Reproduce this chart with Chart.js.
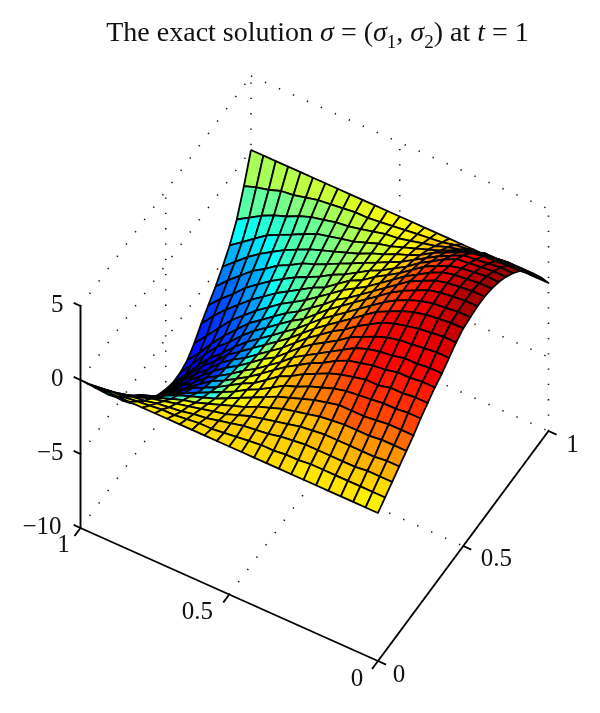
<!DOCTYPE html>
<html>
<head>
<meta charset="utf-8">
<title>The exact solution</title>
<script src="https://cdn.jsdelivr.net/npm/chart.js@4"></script>
<style>
body { margin: 0; background: #fff; }
#wrap { position: relative; width: 600px; height: 713px; }
#title { position: absolute; left: 0; top: 16px; width: 600px; padding-left: 35px; box-sizing: border-box; text-align: center;
  font: 28px "Liberation Serif", serif; color: #111; white-space: nowrap; }
#title sub { font-size: 19px; line-height: 0; }
</style>
</head>
<body>
<div id="wrap">
<div id="title">The exact solution <i>σ</i> = (<i>σ</i><sub>1</sub>, <i>σ</i><sub>2</sub>) at <i>t</i> = 1</div>
<canvas id="surfaceChart" width="600" height="713"></canvas>
</div>
<script>
const zTicks = [5, 0, -5, -10];
const zLabels = ['5', '0', '−5', '−10'];
const xTicks = [1, 0.5, 0];
const xLabels = ['1', '0.5', '0'];
const yTicks = [0, 0.5, 1];
const yLabels = ['0', '0.5', '1'];

// height of the surface, row 0 is the back edge, column 0 the left edge
const surfaceZ = [
  [0,0,0,0,0,0,0,0,0,0,0,0,0,0,0,0,0,0,0,0,0,0,0,0,0],
  [-1.8,-1.5,-1.3,-1,-.9,-.7,-.5,-.4,-.3,-.2,-.2,-.1,0,.1,.2,.3,.4,.6,.7,.8,.9,1,1,1,1],
  [-3.4,-2.9,-2.4,-2,-1.7,-1.3,-1,-.8,-.6,-.5,-.3,-.1,.1,.2,.4,.6,.8,1.1,1.3,1.5,1.8,1.8,1.9,1.9,1.9],
  [-4.5,-3.9,-3.3,-2.7,-2.3,-1.9,-1.5,-1.1,-.9,-.7,-.5,-.2,.1,.3,.6,.9,1.2,1.5,1.9,2.2,2.5,2.6,2.6,2.7,2.7],
  [-5.3,-4.6,-3.9,-3.3,-2.8,-2.3,-1.9,-1.5,-1.2,-.9,-.6,-.3,.1,.4,.8,1.1,1.5,2,2.4,2.8,3.1,3.3,3.3,3.4,3.4],
  [-6,-5.2,-4.5,-3.8,-3.3,-2.7,-2.3,-1.8,-1.5,-1.1,-.7,-.3,.1,.5,.9,1.3,1.8,2.3,2.8,3.2,3.6,3.7,3.8,3.9,3.9],
  [-6.6,-5.8,-5.1,-4.3,-3.7,-3.1,-2.6,-2.1,-1.7,-1.3,-.8,-.4,.1,.6,1,1.5,2,2.6,3.1,3.6,4,4.1,4.2,4.3,4.3],
  [-7.2,-6.3,-5.5,-4.8,-4.1,-3.5,-2.9,-2.4,-1.9,-1.4,-1,-.4,.2,.6,1.2,1.7,2.2,2.8,3.4,3.8,4.2,4.4,4.5,4.6,4.6],
  [-7.9,-7,-6.1,-5.2,-4.5,-3.8,-3.2,-2.6,-2.1,-1.6,-1,-.4,.2,.7,1.2,1.8,2.4,3,3.5,4,4.4,4.6,4.7,4.8,4.8],
  [-8.4,-7.5,-6.5,-5.6,-4.8,-4,-3.4,-2.8,-2.2,-1.7,-1.1,-.5,.2,.7,1.3,1.9,2.5,3.1,3.7,4.1,4.5,4.7,4.8,4.9,4.9],
  [-8.6,-7.6,-6.6,-5.7,-5,-4.2,-3.5,-2.9,-2.3,-1.7,-1.2,-.5,.2,.8,1.4,2,2.6,3.2,3.7,4.1,4.5,4.7,4.8,4.9,4.9],
  [-8.6,-7.7,-6.7,-5.8,-5.1,-4.3,-3.6,-3,-2.4,-1.8,-1.2,-.5,.2,.8,1.4,2,2.6,3.2,3.7,4.1,4.4,4.6,4.7,4.8,4.8],
  [-8.4,-7.5,-6.6,-5.7,-5,-4.2,-3.6,-3,-2.4,-1.8,-1.2,-.5,.2,.8,1.4,2,2.6,3.2,3.6,4,4.3,4.5,4.6,4.7,4.7],
  [-8.1,-7.3,-6.4,-5.6,-4.9,-4.1,-3.5,-3,-2.4,-1.8,-1.2,-.5,.2,.8,1.4,1.9,2.5,3,3.5,3.8,4,4.2,4.3,4.4,4.4],
  [-7.8,-7,-6.2,-5.4,-4.7,-4,-3.4,-2.9,-2.3,-1.7,-1.2,-.5,.2,.8,1.3,1.8,2.4,2.8,3.2,3.5,3.7,3.8,3.9,4,4],
  [-7.3,-6.6,-5.8,-5.1,-4.5,-3.8,-3.3,-2.8,-2.2,-1.7,-1.1,-.5,.2,.7,1.2,1.7,2.2,2.7,3,3.2,3.3,3.5,3.5,3.6,3.6],
  [-6.8,-6.1,-5.4,-4.8,-4.2,-3.6,-3,-2.6,-2.1,-1.6,-1,-.4,.2,.7,1.2,1.6,2.1,2.5,2.7,2.9,3,3.2,3.2,3.3,3.3],
  [-6.1,-5.5,-4.9,-4.3,-3.8,-3.2,-2.8,-2.4,-1.9,-1.4,-1,-.4,.2,.6,1.1,1.5,1.9,2.2,2.4,2.6,2.6,2.8,2.8,2.9,2.9],
  [-5.3,-4.8,-4.3,-3.8,-3.3,-2.9,-2.5,-2.1,-1.7,-1.3,-.8,-.4,.1,.6,.9,1.3,1.6,1.9,2.1,2.2,2.3,2.4,2.4,2.5,2.5],
  [-4.4,-4,-3.5,-3.2,-2.8,-2.4,-2.1,-1.8,-1.5,-1.1,-.7,-.3,.1,.5,.8,1.1,1.4,1.6,1.8,1.8,1.8,1.9,2,2,2],
  [-3.6,-3.3,-2.9,-2.6,-2.3,-2,-1.7,-1.5,-1.2,-.9,-.6,-.3,.1,.4,.7,.9,1.1,1.3,1.4,1.5,1.5,1.5,1.6,1.6,1.6],
  [-2.7,-2.4,-2.2,-2,-1.7,-1.5,-1.3,-1.1,-.9,-.7,-.5,-.2,.1,.3,.5,.7,.9,1,1.1,1.1,1.1,1.1,1.1,1.2,1.2],
  [-1.8,-1.6,-1.5,-1.3,-1.2,-1,-.9,-.8,-.6,-.5,-.3,-.1,.1,.2,.3,.5,.6,.7,.7,.7,.7,.7,.8,.8,.8],
  [-.9,-.8,-.7,-.7,-.6,-.5,-.4,-.4,-.3,-.2,-.2,-.1,0,.1,.2,.2,.3,.3,.4,.4,.4,.4,.4,.4,.4],
  [0,0,0,0,0,0,0,0,0,0,0,0,0,0,0,0,0,0,0,0,0,0,0,0,0]
];

// colour value of each cell, 0 to 1 on the jet map
const cellColor = [
  [.54,.54,.55,.55,.56,.57,.57,.58,.59,.60,.61,.62,.62,.63,.64,.65,.67,.69,.71,.74,.78,.83,.87,.93],
  [.46,.47,.48,.49,.50,.51,.52,.54,.55,.57,.58,.60,.62,.63,.65,.68,.71,.75,.79,.83,.87,.90,.93,.96],
  [.38,.39,.41,.42,.44,.46,.48,.50,.52,.54,.56,.58,.60,.62,.64,.67,.71,.75,.79,.84,.88,.92,.95,.97],
  [.30,.32,.35,.38,.42,.45,.47,.48,.50,.52,.54,.56,.58,.61,.64,.67,.71,.75,.80,.84,.89,.92,.95,.97],
  [.25,.27,.30,.33,.38,.43,.45,.47,.49,.51,.53,.56,.58,.61,.64,.67,.71,.75,.80,.85,.89,.93,.95,.97],
  [.21,.23,.26,.29,.34,.41,.44,.47,.49,.51,.53,.55,.58,.61,.64,.68,.72,.76,.80,.85,.89,.93,.95,.97],
  [.18,.20,.23,.27,.31,.38,.42,.45,.48,.50,.53,.56,.59,.62,.65,.69,.73,.77,.81,.85,.89,.93,.95,.97],
  [.16,.18,.20,.24,.28,.34,.39,.43,.47,.50,.54,.58,.61,.64,.67,.71,.75,.79,.83,.86,.90,.93,.95,.97],
  [.14,.16,.18,.21,.25,.30,.36,.42,.47,.51,.55,.59,.62,.65,.68,.72,.76,.80,.83,.87,.90,.93,.95,.96],
  [.12,.14,.16,.18,.21,.25,.30,.36,.44,.51,.56,.60,.63,.66,.69,.73,.77,.80,.84,.87,.90,.92,.95,.96],
  [.11,.12,.14,.15,.18,.22,.28,.35,.44,.52,.57,.61,.64,.67,.70,.74,.77,.81,.84,.87,.90,.92,.94,.96],
  [.10,.11,.12,.13,.15,.19,.26,.35,.46,.54,.59,.62,.65,.68,.71,.74,.78,.81,.84,.87,.89,.91,.93,.95],
  [.09,.10,.11,.12,.14,.18,.26,.38,.50,.58,.62,.64,.66,.72,.76,.78,.82,.85,.88,.90,.90,.90,.92,.93],
  [.09,.10,.11,.12,.14,.18,.28,.42,.54,.60,.63,.65,.67,.72,.75,.78,.82,.85,.88,.89,.89,.89,.90,.91],
  [.09,.10,.11,.12,.14,.18,.30,.45,.56,.61,.63,.65,.67,.72,.75,.78,.82,.85,.87,.88,.88,.88,.89,.89],
  [.09,.10,.11,.12,.14,.17,.30,.47,.57,.61,.63,.65,.67,.72,.74,.77,.81,.84,.86,.87,.87,.87,.87,.88],
  [.10,.11,.12,.13,.15,.18,.30,.48,.58,.62,.63,.65,.67,.72,.74,.77,.80,.83,.85,.86,.85,.85,.85,.85],
  [.11,.12,.13,.14,.16,.20,.30,.46,.58,.62,.63,.65,.67,.71,.73,.75,.78,.80,.82,.84,.83,.83,.83,.83],
  [.12,.14,.16,.18,.22,.27,.34,.42,.55,.60,.63,.65,.66,.70,.72,.74,.76,.78,.80,.82,.81,.81,.81,.81],
  [.20,.22,.26,.30,.36,.44,.55,.58,.61,.63,.64,.65,.66,.70,.71,.72,.74,.75,.77,.79,.78,.77,.77,.77],
  [.40,.44,.50,.54,.58,.60,.63,.64,.65,.66,.66,.67,.67,.67,.68,.68,.69,.70,.71,.72,.73,.73,.73,.73],
  [.55,.57,.59,.60,.62,.63,.64,.65,.66,.66,.67,.67,.67,.67,.68,.68,.68,.69,.69,.69,.70,.70,.70,.70],
  [.60,.61,.62,.63,.64,.65,.65,.66,.66,.67,.67,.67,.67,.67,.67,.67,.67,.67,.67,.67,.67,.67,.67,.66],
  [.62,.63,.63,.64,.64,.65,.65,.65,.66,.66,.66,.66,.66,.66,.66,.66,.66,.65,.65,.65,.65,.65,.64,.64]
];

const gridCount = 24;

// oblique view of the box, result goes on the chart's x and y scales
function project(x, y, z) {
  return {
    x: 378 - 297.5 * x + 170.5 * y,
    y: 661 - 133 * x - 230 * y - 14.8 * (z + 10)
  };
}

function jet(v) {
  const ramp = t => Math.max(0, Math.min(1, t));
  const r = ramp(Math.min(4 * v - 1.5, -4 * v + 4.5));
  const g = ramp(Math.min(4 * v - 0.5, -4 * v + 3.5));
  const b = ramp(Math.min(4 * v + 0.5, -4 * v + 2.5));
  return 'rgb(' + Math.round(r * 255) + ',' + Math.round(g * 255) + ',' + Math.round(b * 255) + ')';
}

function lineSet(from, to, dotted) {
  return {
    data: [project(...from), project(...to)],
    showLine: true,
    fill: false,
    tension: 0,
    pointRadius: 0,
    borderColor: dotted ? '#111' : '#000',
    borderWidth: dotted ? 1.6 : 1.9,
    borderDash: dotted ? [1.3, 14] : []
  };
}

const sets = [];

// dotted walls and floor first, they stay behind the surface
zTicks.forEach(z => {
  sets.push(lineSet([1, 0, z], [1, 1, z], true));
  sets.push(lineSet([1, 1, z], [0, 1, z], true));
});
sets.push(lineSet([1, 0.5, -10], [1, 0.5, 5], true));
sets.push(lineSet([1, 1, -10], [1, 1, 5], true));
sets.push(lineSet([0.5, 1, -10], [0.5, 1, 5], true));
sets.push(lineSet([0, 1, -10], [0, 1, 5], true));
sets.push(lineSet([0.5, 0, -10], [0.5, 1, -10], true));
sets.push(lineSet([1, 0.5, -10], [0, 0.5, -10], true));

// solid axes and their ticks
sets.push(lineSet([1, 0, -10], [1, 0, 5]));
sets.push(lineSet([1, 0, -10], [0, 0, -10]));
sets.push(lineSet([0, 0, -10], [0, 1, -10]));
zTicks.forEach(z => sets.push(lineSet([1, 0, z], [1.023, 0, z])));
xTicks.forEach(x => sets.push(lineSet([x, 0, -10], [x, -0.035, -10])));
yTicks.forEach(y => sets.push(lineSet([0, y, -10], [-0.027, y, -10])));

// cells from the back corner to the front corner so near ones paint over far ones
for (let j = 0; j < gridCount; j++) {
  for (let i = 0; i < gridCount; i++) {
    const corner = (r, c) => project(1 - c / gridCount, 1 - r / gridCount, surfaceZ[r][c]);
    const p = corner(j, i);
    sets.push({
      data: [p, corner(j, i + 1), corner(j + 1, i + 1), corner(j + 1, i), p],
      showLine: true,
      fill: 'shape',
      tension: 0,
      pointRadius: 0,
      backgroundColor: jet(cellColor[j][i]),
      borderColor: '#000',
      borderWidth: 1.8,
      borderJoinStyle: 'round'
    });
  }
}

const tickText = {
  id: 'tickText',
  afterDraw(chart) {
    const ctx = chart.ctx;
    const sx = chart.scales.x, sy = chart.scales.y;
    function put(text, p, dx, dy, align) {
      ctx.textAlign = align;
      ctx.fillText(text, sx.getPixelForValue(p.x) + dx, sy.getPixelForValue(p.y) + dy);
    }
    ctx.save();
    ctx.font = '25px "Liberation Serif", serif';
    ctx.fillStyle = '#111';
    ctx.textBaseline = 'middle';
    zTicks.forEach((z, n) => put(zLabels[n], project(1, 0, z), z === -10 ? -19 : -17, -1, 'right'));
    xTicks.forEach((x, n) => put(xLabels[n], project(x, 0, -10), x === 1 ? -17 : (x === 0 ? -21 : -32), x === 1 ? 17 : (x === 0 ? 18 : 18), 'center'));
    yTicks.forEach((y, n) => put(yLabels[n], project(0, y, -10), y === 1 ? 24 : (y === 0 ? 21 : 33), y === 1 ? 14 : (y === 0 ? 14 : 13), 'center'));
    ctx.restore();
  }
};

new Chart(document.getElementById('surfaceChart'), {
  type: 'scatter',
  data: { datasets: sets.reverse() },
  options: {
    responsive: false,
    animation: false,
    clip: false,
    layout: { padding: 0 },
    plugins: { legend: { display: false }, title: { display: false }, tooltip: { enabled: false } },
    scales: {
      x: { type: 'linear', min: 0, max: 600, display: false },
      y: { type: 'linear', min: 0, max: 713, reverse: true, display: false }
    }
  },
  plugins: [tickText]
});
</script>
</body>
</html>
